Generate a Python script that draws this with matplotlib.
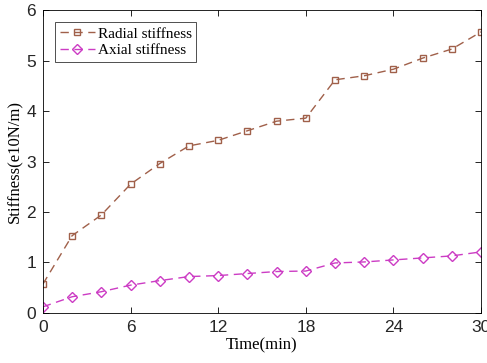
import numpy as np
import matplotlib
matplotlib.use('Agg')
import matplotlib.pyplot as plt

# 数据
time = [0, 2, 4, 6, 8, 10, 12, 14, 16, 18, 20, 22, 24, 26, 28, 30]
radial = [0.57, 1.53, 1.94, 2.55, 2.96, 3.31, 3.42, 3.61, 3.80, 3.86,
          4.62, 4.70, 4.83, 5.05, 5.23, 5.57]
axial = [0.12, 0.32, 0.42, 0.55, 0.64, 0.72, 0.74, 0.78, 0.82, 0.83,
         0.99, 1.01, 1.05, 1.09, 1.13, 1.21]
xticks = [0, 6, 12, 18, 24, 30]
yticks = [0, 1, 2, 3, 4, 5, 6]

fig = plt.figure(figsize=(4.87, 3.63), dpi=100)
ax = fig.add_axes([0.088, 0.138, 0.9, 0.834])

ax.plot(time, radial, '--s', color='#a0604a', markerfacecolor='none',
        markersize=5, linewidth=1.0, dashes=(6, 4), label='Radial stiffness')
ax.plot(time, axial, '--D', color='#cc3cc4', markerfacecolor='none',
        markersize=5, linewidth=1.0, dashes=(6, 4), label='Axial stiffness')

ax.set_xlim(0, 30)
ax.set_ylim(0, 6)
ax.set_xticks(xticks)
ax.set_yticks(yticks)
ax.tick_params(direction='in', top=True, right=True, length=4, width=0.6,
               labelsize=12.5, pad=5, labelcolor='#262626')
for lab in ax.get_xticklabels() + ax.get_yticklabels():
    lab.set_family('Liberation Sans')
for s in ax.spines.values():
    s.set_linewidth(0.6)

ax.set_xlabel('Time(min)', family='Liberation Serif', fontsize=12, labelpad=2)
ax.set_ylabel('Stiffness(e10N/m)', family='Liberation Serif', fontsize=12, labelpad=2)

leg = ax.legend(loc='upper left', prop={'family': 'Liberation Serif', 'size': 11},
                fancybox=False, edgecolor='black', borderpad=0.3,
                handlelength=2.3, handletextpad=0.2, labelspacing=0.2,
                borderaxespad=0.8)
leg.get_frame().set_linewidth(0.6)

fig.savefig('out.png', dpi=100)
